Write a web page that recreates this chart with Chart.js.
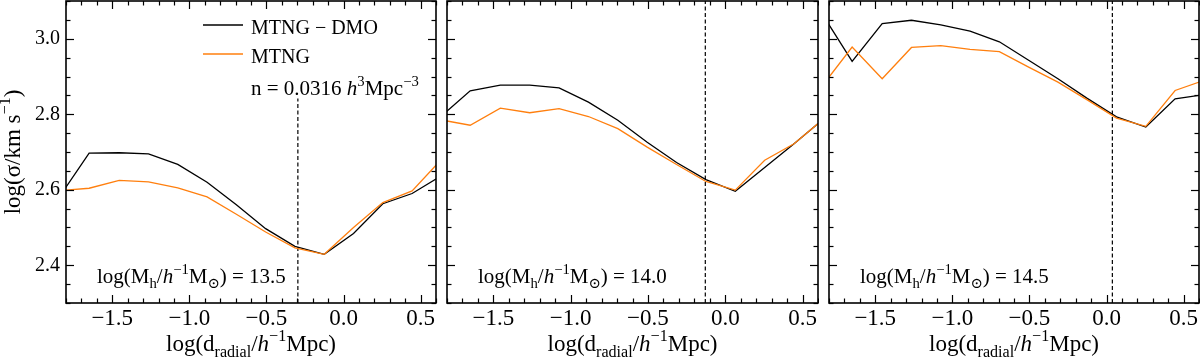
<!DOCTYPE html>
<html><head><meta charset="utf-8">
<script src="https://cdn.jsdelivr.net/npm/chart.js@4.4.1/dist/chart.umd.min.js"></script>
<style>
html,body{margin:0;padding:0;background:#fff;width:1200px;height:360px;overflow:hidden}
.p{position:absolute;top:0;height:360px}
canvas{display:block}
</style></head><body>
<div class="p" style="left:0;width:440px"><canvas id="c0" width="440" height="360"></canvas></div>
<div class="p" style="left:446px;width:373px"><canvas id="c1" width="373" height="360"></canvas></div>
<div class="p" style="left:828px;width:372px"><canvas id="c2" width="372" height="360"></canvas></div>
<script>
// ---- data ----
const radialBins = [-1.84,-1.65,-1.455,-1.265,-1.075,-0.885,-0.695,-0.505,-0.315,-0.125,0.065,0.255,0.445,0.635];
const sigmaDMO_135  = [2.583,2.697,2.698,2.695,2.667,2.620,2.560,2.497,2.450,2.429,2.484,2.563,2.590,2.637];
const sigmaMTNG_135 = [2.598,2.604,2.625,2.621,2.605,2.581,2.535,2.488,2.446,2.429,2.500,2.566,2.597,2.680];
const sigmaDMO_140  = [2.794,2.862,2.877,2.877,2.870,2.832,2.784,2.726,2.672,2.627,2.596,2.659,2.722,2.787];
const sigmaMTNG_140 = [2.785,2.771,2.816,2.804,2.815,2.794,2.762,2.713,2.667,2.622,2.599,2.678,2.722,2.787];
const sigmaDMO_145  = [3.063,2.940,3.040,3.049,3.037,3.020,2.992,2.943,2.894,2.842,2.793,2.766,2.841,2.852];
const sigmaMTNG_145 = [2.877,2.978,2.894,2.977,2.982,2.972,2.966,2.925,2.885,2.838,2.790,2.768,2.863,2.890];
const massLabels = ['13.5','14.0','14.5'];
const radiusMarkers = [-0.296,-0.129,0.038];
const markerTop = [2.842,3.1,3.1];
const xTicks = [-1.5,-1.0,-0.5,0.0,0.5];
const yTicks = [2.4,2.6,2.8,3.0];
const xRange = [-1.8,0.6];
const yRange = [2.3,3.1];
const seriesNames = ['MTNG \u2212 DMO','MTNG'];
const seriesColors = ['#000000','#ff7f0e'];
const densityLabel = '0.0316';

const FAM = "'Liberation Serif','DejaVu Serif',serif";
const FS = 20;      // y ticks, legend
const FX = 23;      // x ticks
const FT = 23;      // axis titles
const FA = 21;      // annotations

function segFont(s,size){
  const sz = (s.sub||s.sup) ? size*0.7 : size;
  return (s.i?'italic ':'') + sz + 'px ' + FAM;
}
function richWidth(ctx,segs,size){
  let w=0; for(const s of segs){ ctx.font=segFont(s,size); w+=ctx.measureText(s.t).width; } return w;
}
function drawRich(ctx,segs,x,y,size,align){
  let w = richWidth(ctx,segs,size);
  let cx = align==='center' ? x-w/2 : x;
  ctx.textAlign='left'; ctx.textBaseline='alphabetic'; ctx.fillStyle='#000';
  for(const s of segs){
    ctx.font=segFont(s,size);
    const dy = s.sub ? 0.25*size : (s.sup ? -0.42*size : 0);
    ctx.fillText(s.t,cx,y+dy);
    cx += ctx.measureText(s.t).width;
  }
}
const xTitle = [{t:'log(d'},{t:'radial',sub:1},{t:'/'},{t:'h',i:1},{t:'\u22121',sup:1},{t:'Mpc)'}];
const yTitle = [{t:'log(\u03c3/km s'},{t:'\u22121',sup:1},{t:')'}];
function massText(m){ return [{t:'log(M'},{t:'h',sub:1},{t:'/'},{t:'h',i:1},{t:'\u22121',sup:1},{t:'M'},{t:'\u2299',sub:1},{t:') = '+m}]; }
const nText = [{t:'n = '+densityLabel+' '},{t:'h',i:1},{t:'3',sup:1},{t:'Mpc'},{t:'\u22123',sup:1}];

function fmt(v){ const a=Math.abs(v).toFixed(1); return (v< -1e-9 ? '\u2212' : '') + a; }

const decor = {
  id:'decor',
  afterDatasetsDraw(chart){
    const {ctx, chartArea:a, scales:{x,y}} = chart;
    const idx = chart.options.plugins.decor.idx;
    ctx.save();
    ctx.strokeStyle='#000';
    const seg=(x1,y1,x2,y2)=>{ctx.beginPath();ctx.moveTo(x1,y1);ctx.lineTo(x2,y2);ctx.stroke();};
    ctx.lineWidth=1.2;
    for(let i=Math.round(xRange[0]*10);i<=Math.round(xRange[1]*10);i++){
      const px=Math.round(x.getPixelForValue(i/10))+0.5;
      const L = (i%5===0)?8:4.5;
      seg(px,a.bottom,px,a.bottom-L); seg(px,a.top,px,a.top+L);
    }
    for(let i=Math.round(yRange[0]*20);i<=Math.round(yRange[1]*20);i++){
      const py=Math.round(y.getPixelForValue(i/20))+0.5;
      const L = (i%4===0)?8:4.5;
      seg(a.left,py,a.left+L,py); seg(a.right,py,a.right-L,py);
    }
    ctx.lineWidth=1.6;
    ctx.strokeRect(a.left,a.top,a.right-a.left,a.bottom-a.top);
    // titles
    drawRich(ctx,xTitle,(a.left+a.right)/2,351,FT,'center');
    if(idx===0){
      ctx.save(); ctx.translate(20,(a.top+a.bottom)/2); ctx.rotate(-Math.PI/2);
      drawRich(ctx,yTitle,0,0,FT,'center'); ctx.restore();
      // legend
      const ds = chart.data.datasets;
      [0,1].forEach((k,j)=>{
        const d = ds.find(q=>q.label===seriesNames[k]);
        const ly = [25,54][j];
        ctx.strokeStyle=d.borderColor; ctx.lineWidth=1.3;
        seg(a.left+137,ly,a.left+177,ly);
        drawRich(ctx,[{t:seriesNames[k]}],a.left+185,[34,63][j],FS,'left');
      });
      drawRich(ctx,nText,a.left+185,95,FA,'left');
    }
    drawRich(ctx,massText(massLabels[idx]),a.left+31,283,FA,'left');
    ctx.restore();
  }
};

Chart.defaults.font.family = FAM;
Chart.defaults.font.size = FS;
Chart.defaults.color = '#000';

const panels = [
  {dmo:sigmaDMO_135, mtng:sigmaMTNG_135, pad:{left:0,right:4,top:1,bottom:0}, yw:66},
  {dmo:sigmaDMO_140, mtng:sigmaMTNG_140, pad:{left:1,right:1,top:1,bottom:0}, yw:0},
  {dmo:sigmaDMO_145, mtng:sigmaMTNG_145, pad:{left:1,right:1,top:1,bottom:0}, yw:0}
];

panels.forEach((p,idx)=>{
  new Chart(document.getElementById('c'+idx), {
    type:'line',
    data:{datasets:[
      {label:seriesNames[0], data:radialBins.map((v,i)=>({x:v,y:p.dmo[i]})), borderColor:seriesColors[0], borderWidth:1.3, pointRadius:0, tension:0, fill:false, order:1, clip:0},
      {label:seriesNames[1], data:radialBins.map((v,i)=>({x:v,y:p.mtng[i]})), borderColor:seriesColors[1], borderWidth:1.3, pointRadius:0, tension:0, fill:false, order:0, clip:0},
      {label:'r200', data:[{x:radiusMarkers[idx],y:yRange[0]},{x:radiusMarkers[idx],y:markerTop[idx]}], borderColor:'#000', borderWidth:1.2, borderDash:[4,2.5], pointRadius:0, fill:false, order:2, clip:0}
    ]},
    options:{
      responsive:false, animation:false, devicePixelRatio:1,
      layout:{padding:p.pad},
      plugins:{legend:{display:false}, tooltip:{enabled:false}, decor:{idx}},
      scales:{
        x:{type:'linear', position:'bottom', min:xRange[0], max:xRange[1],
           grid:{display:false, drawTicks:false}, border:{display:false},
           ticks:{padding:2, maxRotation:0, autoSkip:false, font:{size:FX}, callback:v=>fmt(v)},
           afterBuildTicks:s=>{s.ticks=xTicks.map(v=>({value:v}));},
           afterFit:s=>{s.height=57; s.paddingLeft=0; s.paddingRight=0;}},
        y:{type:'linear', position:'left', min:yRange[0], max:yRange[1],
           grid:{display:false, drawTicks:false}, border:{display:false},
           ticks:{display:idx===0, padding:6, callback:v=>fmt(v)},
           afterBuildTicks:s=>{s.ticks=yTicks.map(v=>({value:v}));},
           afterFit:s=>{s.width=p.yw; s.paddingTop=0; s.paddingBottom=0;}}
      }
    },
    plugins:[decor]
  });
});
</script>
</body></html>
